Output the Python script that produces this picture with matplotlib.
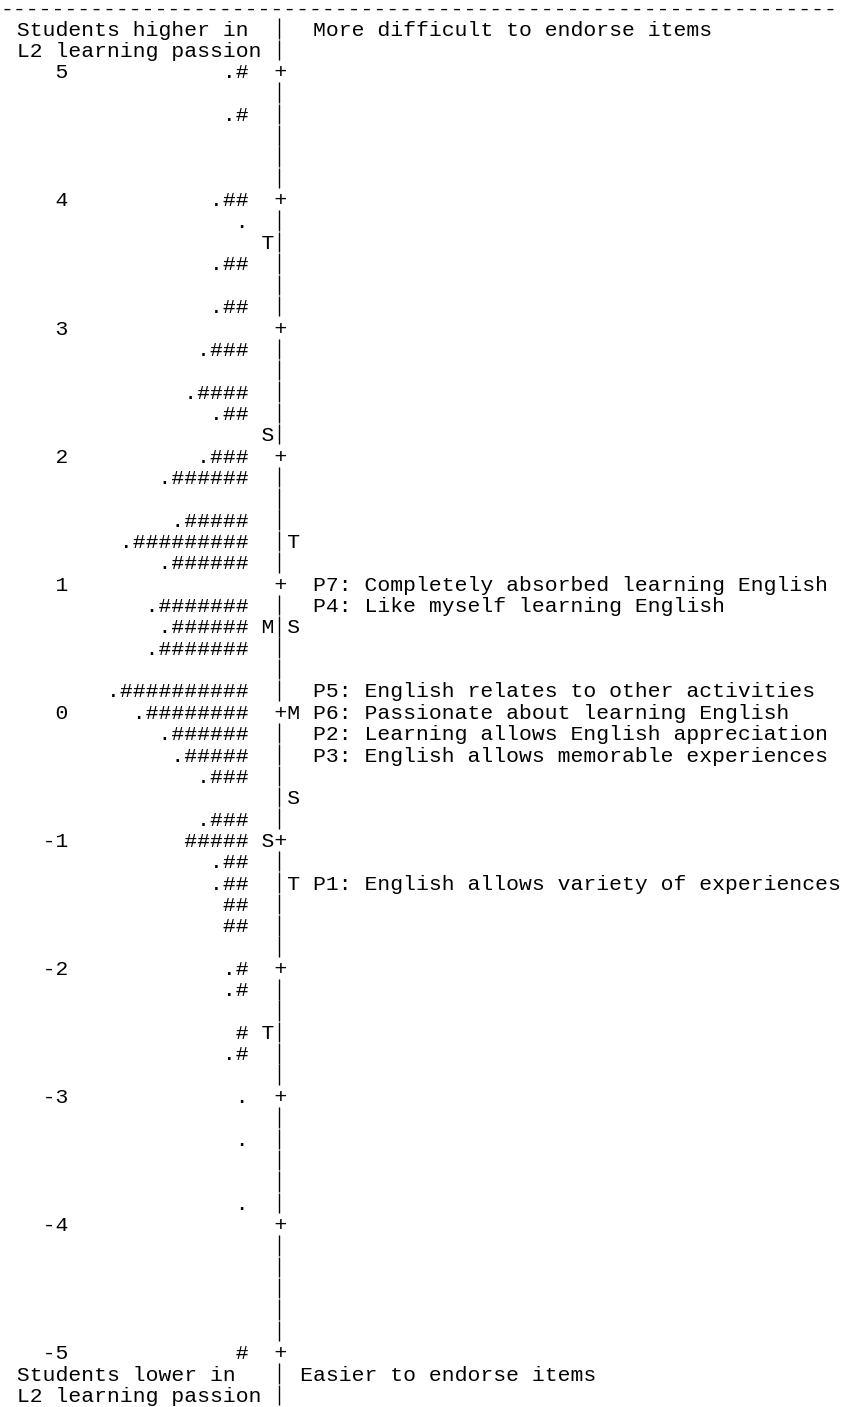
import numpy as np
import matplotlib.pyplot as plt

# students per level (each '#' is 2 students, each '.' is 1)
person_levels = [5.0, 4.67, 4.0, 3.83, 3.5, 3.17, 2.83, 2.5, 2.33, 2.0, 1.83, 1.5, 1.33, 1.17,
                 0.83, 0.67, 0.5, 0.17, 0.0, -0.17, -0.33, -0.5, -0.83, -1.0, -1.17, -1.33,
                 -1.5, -1.67, -2.0, -2.17, -2.5, -2.67, -3.0, -3.33, -3.83, -5.0]
person_counts = [3, 3, 5, 1, 5, 5, 7, 9, 5, 7, 13, 11, 19, 13,
                 15, 13, 15, 21, 17, 13, 11, 7, 7, 10, 5, 5,
                 4, 4, 3, 3, 2, 3, 1, 1, 1, 2]

# item difficulties
item_labels = ["P7: Completely absorbed learning English",
               "P4: Like myself learning English",
               "P5: English relates to other activities",
               "P6: Passionate about learning English",
               "P2: Learning allows English appreciation",
               "P3: English allows memorable experiences",
               "P1: English allows variety of experiences"]
item_measures = [1.0, 0.83, 0.17, 0.0, -0.17, -0.33, -1.33]

# mean / 1 SD / 2 SD markers
person_marker_labels = ["T", "S", "M", "S", "T"]
person_marker_levels = [3.67, 2.17, 0.67, -1.0, -2.5]
item_marker_labels = ["T", "S", "M", "S", "T"]
item_marker_levels = [1.33, 0.67, 0.0, -0.67, -1.33]

scale_ticks = [5, 4, 3, 2, 1, 0, -1, -2, -3, -4, -5]
top_labels = ["Students higher in", "L2 learning passion"]
bottom_labels = ["Students lower in", "L2 learning passion"]
top_item_note = "More difficult to endorse items"
bottom_item_note = "Easier to endorse items"

ncols = 66
steps = 6                      # rows per logit
nrows = 10 * steps + 1
row_px = 21.35
char_px = 12.8
left_px = 4.0
top_px = 7.0
fs_px = char_px / 0.6
fs = fs_px * 72 / 100
axis_col = 21


def row_of(level):
    return int(round((5 - level) * steps))


grid = [[" "] * ncols for _ in range(nrows)]


def put(r, c, s):
    for i, ch in enumerate(s):
        grid[r][c + i] = ch


# axis column
for r in range(nrows):
    grid[r][axis_col] = "|"
for t in scale_ticks:
    r = row_of(t)
    grid[r][axis_col] = "+"
    put(r, 5 - len(str(t)), str(t))

for lev, n in zip(person_levels, person_counts):
    s = "." * (n % 2) + "#" * (n // 2)
    put(row_of(lev), 19 - len(s), s)

for lab, lev in zip(person_marker_labels, person_marker_levels):
    put(row_of(lev), 20, lab)
for lab, lev in zip(item_marker_labels, item_marker_levels):
    put(row_of(lev), 22, lab)
for lab, lev in zip(item_labels, item_measures):
    put(row_of(lev), 24, lab)

lines = ["".join(g) for g in grid]
header = [" " + top_labels[0].ljust(20) + "|  " + top_item_note,
          " " + top_labels[1].ljust(20) + "|"]
footer = [" " + bottom_labels[0].ljust(20) + "| " + bottom_item_note,
          " " + bottom_labels[1].ljust(20) + "|"]

fig = plt.figure(figsize=(8.45, 14.07), dpi=100)
ax = fig.add_axes([0, 0, 1, 1])
ax.axis("off")

unit = 1.0 / steps
y_top = 5 + 3 * unit + (top_px / row_px) * unit
y_bot = y_top - (1407 / row_px) * unit
x_left = -left_px / char_px
ax.set_xlim(x_left, (845 - left_px) / char_px)
ax.set_ylim(y_bot, y_top)

base_off = 0.34 * fs_px / row_px * unit
font = dict(family="Liberation Mono", fontsize=fs, color="black", va="baseline")

# dashed rule across the top
ax.text(x_left, 5 + 3 * unit - base_off, "-" * (ncols - 1), ha="left", **font)

all_lines = header + lines + footer
levels = [5 + (2 - i) * unit for i in range(len(all_lines))]
bar_rows = []
for txt, y in zip(all_lines, levels):
    if len(txt) > axis_col and txt[axis_col] == "|":
        bar_rows.append(y)
        txt = txt[:axis_col] + " " + txt[axis_col + 1:]
    ax.text(0, y - base_off, txt.rstrip(), ha="left", **font)

# vertical axis pieces between the '+' ticks
bar_rows = np.array(bar_rows)
ax.vlines(np.full(len(bar_rows), axis_col + 0.5), bar_rows - 0.49 * unit,
          bar_rows + 0.47 * unit, color="black", lw=1.0)

plt.savefig("out.png", dpi=100)
